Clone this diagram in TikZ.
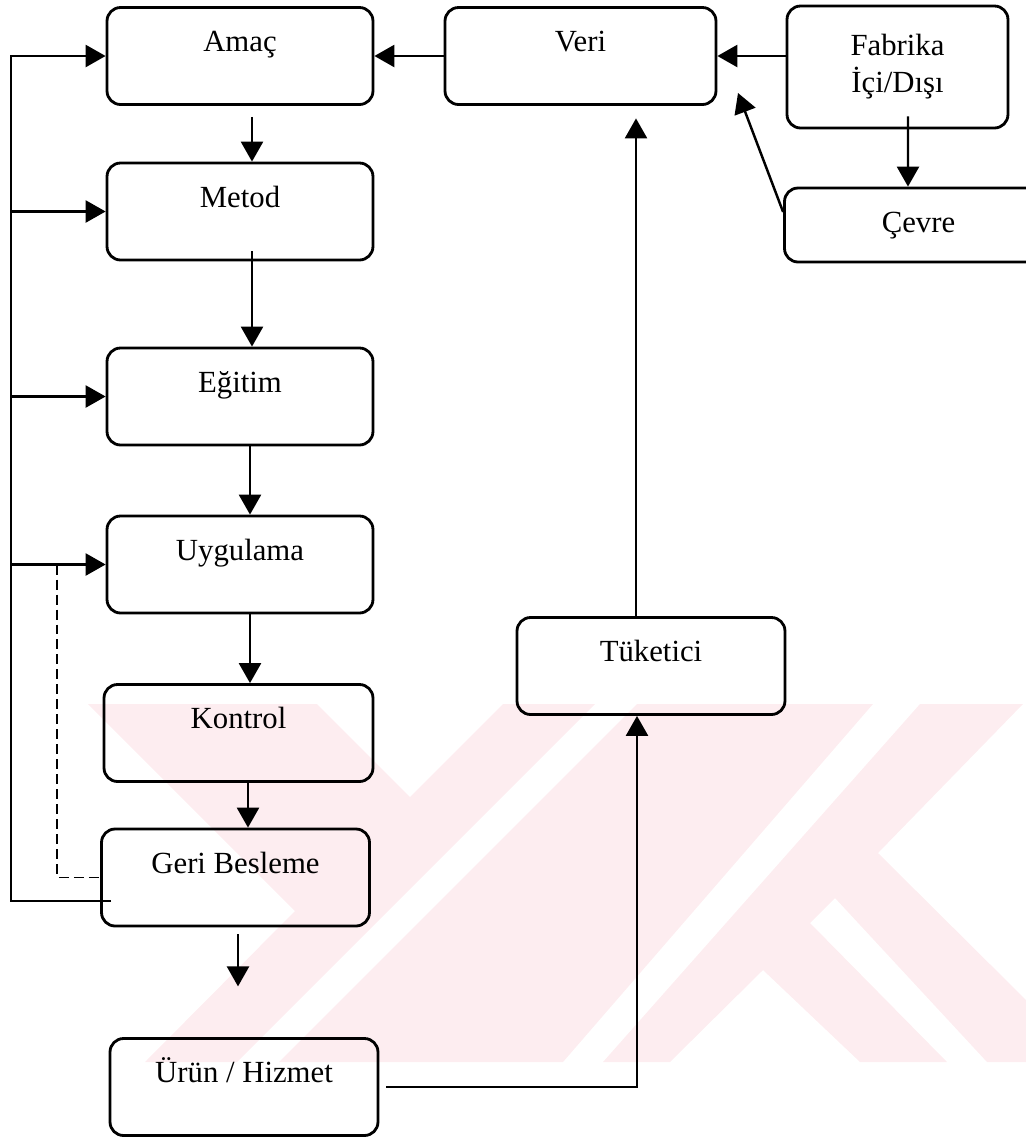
\documentclass[tikz,border=0pt]{standalone}
\usepackage{fontspec}
\setmainfont{Liberation Serif}
\usetikzlibrary{arrows.meta,calc}
\definecolor{filigran}{RGB}{253,237,240}

\begin{document}
\begin{tikzpicture}[x=0.02cm, y=-0.02cm,
    blok/.style={draw=black, line width=1.6pt, rounded corners=0.27cm,
      minimum width=5.36cm, inner ysep=0.46cm, text height=0.42cm,
      text depth=#1, align=center, font=\fontsize{17.5}{21}\selectfont},
    blok/.default=0.6cm,
    ok/.style={draw=black, line width=1.4pt, -{Triangle[length=0.4cm, width=0.44cm]}},
    kesikli/.style={draw=black, line width=1.1pt, dash pattern=on 0.2cm off 0.1cm}]
  \useasboundingbox (0,0) rectangle (1026,1137);

  % arka plandaki filigran
  \fill[filigran] (88,704) -- (317,704) -- (410,797) -- (503,704) -- (595,704)
    -- (237,1062) -- (145,1062) -- (295,911) -- cycle;
  \fill[filigran] (637,704) -- (873,704) -- (563,1062) -- (279,1062) -- cycle;
  \fill[filigran] (920,704) -- (1023,704) -- (878,853) -- (1026,1000) -- (1026,1062)
    -- (987,1062) -- (835,898) -- (810,923) -- (947,1062) -- (860,1062)
    -- (763,970) -- (670,1062) -- (603,1062) -- cycle;

  \begin{scope}[every node/.style={blok}]
    \node (amac) at (240,56) [minimum width=5.32cm] {Amaç};
    \node (metod) at (240,211.5) [minimum width=5.32cm] {Metod};
    \node (egitim) at (240,396.5) [minimum width=5.32cm] {Eğitim};
    \node (uygulama) at (240,564.5) [minimum width=5.32cm] {Uygulama};
    \node (kontrol) at (238.5,733) [minimum width=5.38cm] {Kontrol};
    \node (geri) at (235.5,877.5) {Geri Besleme};
    \node (urun) at (244,1087) {Ürün / Hizmet};
    \node (veri) at (580.5,56) [minimum width=5.42cm] {Veri};
    \node (fabrika) at (897.5,67) [minimum width=4.42cm, text height={}, text depth={},
      minimum height=2.44cm] {Fabrika\\İçi/Dışı};
    \node (cevre) at (918.5,225) [minimum width=4.26cm, blok=0.14cm] {Çevre};
    \node (tuketici) at (651,666) {Tüketici};
  \end{scope}

  \coordinate (solhat) at (11,901);
  \coordinate (kesik) at (57,901);
  \coordinate (cevreuc) at (738,93);
  \coordinate (tukust) at ([xshift=-0.3cm]tuketici.north);
  \coordinate (gs) at ($(geri.south)+(2.5,7)$);
  \coordinate (ug) at ($(geri.south)+(2.5,59)$);

  \begin{scope}[every edge/.style={ok}]
    \path (veri.west) edge (amac.east);
    \path (fabrika.west |- veri.east) edge (veri.east);
    \path ([yshift=0.26cm]cevre.west) edge (cevreuc);
    \path ([xshift=0.21cm,yshift=0.26cm]fabrika.south) edge ([xshift=-0.21cm]cevre.north);
    \path (tukust) edge[shorten >=0.25cm] (tukust |- veri.south);
    \path (gs) edge (ug);
  \end{scope}

  % ana akis
  \foreach \a/\b/\dx/\dy in {amac/metod/12/11, metod/egitim/12/-10,
      egitim/uygulama/10/0, uygulama/kontrol/10/0, kontrol/geri/9.5/0}
  {
    \coordinate (c\a) at ($(\a.south)+(\dx,\dy)$);
    \draw[ok] (c\a) -- (c\a |- \b.north);
  }
  \draw[ok] ([xshift=0.14cm]urun.east) -| ([xshift=-0.28cm]tuketici.south);

  % geri besleme donguleri
  \draw[ok] ($(geri.west)+(11,23.5)$) -| (solhat |- amac.west) -- (amac.west);
  \foreach \n in {metod,egitim,uygulama}
    \draw[ok] (solhat |- \n.west) -- (\n.west);
  \draw[kesikli] (kesik |- uygulama.west) -- (kesik |- geri.west) -- (geri.west);
\end{tikzpicture}
\end{document}
